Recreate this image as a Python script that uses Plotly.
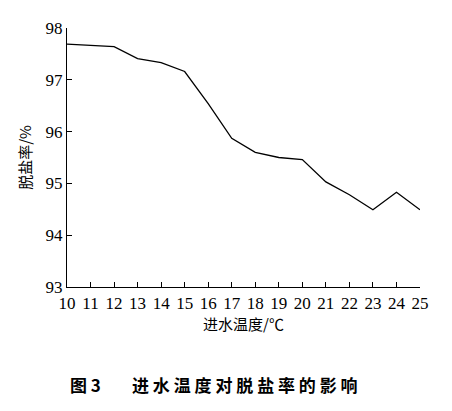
import plotly.graph_objects as go

# 进水温度 (°C) vs 脱盐率 (%)
temperature = [10, 11, 12, 13, 14, 15, 16, 17, 18, 19, 20, 21, 22, 23, 24, 25]
desalination = [97.69, 97.67, 97.64, 97.41, 97.33, 97.16, 96.54, 95.87, 95.60,
                95.50, 95.46, 95.03, 94.78, 94.49, 94.83, 94.49]

x_ticks = list(range(10, 26))
y_ticks = [93, 94, 95, 96, 97, 98]

serif = "'Liberation Serif', serif"
cjk = "Noto Sans CJK SC"

fig = go.Figure(go.Scatter(
    x=temperature, y=desalination, mode="lines",
    line=dict(color="black", width=1.3), showlegend=False,
))

fig.update_xaxes(
    range=[10, 25], tickvals=x_ticks, ticks="inside", ticklen=5, tickwidth=1,
    tickcolor="black", showline=True, linecolor="black", linewidth=1.3,
    showgrid=False, zeroline=False,
    tickfont=dict(family=serif, size=17, color="black"),
    title=dict(text="进水温度/℃", font=dict(family=cjk, size=15, color="black"),
               standoff=6),
)
fig.update_yaxes(
    range=[93, 98], tickvals=y_ticks, ticks="inside", ticklen=5, tickwidth=1,
    tickcolor="black", showline=True, linecolor="black", linewidth=1.3,
    showgrid=False, zeroline=False,
    tickfont=dict(family=serif, size=17, color="black"),
    title=dict(text="脱盐率/%", font=dict(family=cjk, size=15, color="black"),
               standoff=10),
)

fig.add_annotation(
    text="<b>图 3</b>", xref="paper", yref="paper", x=0.003, y=-0.377,
    xanchor="left", yanchor="middle", showarrow=False,
    font=dict(family=cjk, size=17, color="black"),
)
fig.add_annotation(
    text="<b>" + " ".join("进水温度对脱盐率的影响") + "</b>",
    xref="paper", yref="paper", x=0.178, y=-0.377,
    xanchor="left", yanchor="middle", showarrow=False,
    font=dict(family=cjk, size=17, color="black"),
)

fig.update_layout(
    width=452, height=411,
    margin=dict(l=59, r=40, t=11, b=132),
    plot_bgcolor="white", paper_bgcolor="white",
)

fig.write_html("out.html")
